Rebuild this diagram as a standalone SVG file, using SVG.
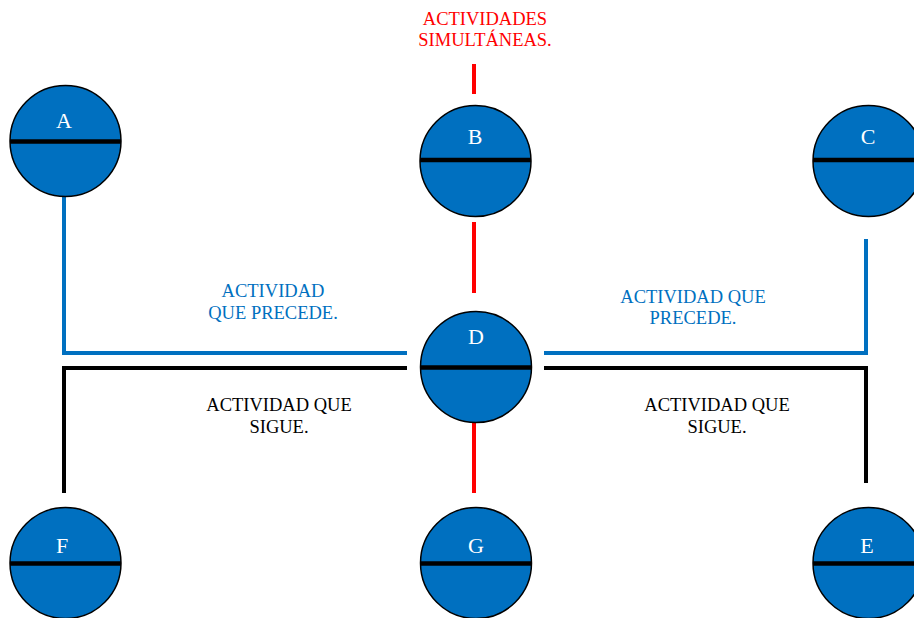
<svg xmlns="http://www.w3.org/2000/svg" width="914" height="618" viewBox="0 0 914 618">
  <style>
    .node circle { fill: #0070C0; stroke: #000; stroke-width: 1.5; }
    .node line { stroke: #000; stroke-width: 4.5; }
    .node text { fill: #fff; font-family: "Liberation Serif", "Times New Roman", serif; font-size: 22px; text-anchor: middle; }
    .lbl { font-family: "Liberation Serif", "Times New Roman", serif; font-size: 18.5px; text-anchor: middle; }
    .blue { fill: #0070C0; }
    .black { fill: #000; }
    .red { fill: #FF0000; }
    #connectors path, #connectors line { fill: none; stroke-width: 4; stroke-linecap: butt; }
    .c-blue { stroke: #0070C0; }
    .c-black { stroke: #000; }
    .c-red { stroke: #FF0000; }
  </style>

  <rect width="914" height="618" fill="#fff"/>

  <!-- connectors -->
  <g id="connectors">
    <line class="c-red" x1="474" y1="64" x2="474" y2="94"/>
    <line class="c-red" x1="474" y1="222" x2="474" y2="293"/>
    <line class="c-red" x1="474" y1="423" x2="474" y2="493"/>
    <path class="c-blue" d="M64 197 V353 H407"/>
    <path class="c-black" d="M407 368 H64 V493"/>
    <path class="c-blue" d="M544 353 H866 V239"/>
    <path class="c-black" d="M544 368 H866 V483"/>
  </g>

  <!-- labels -->
  <g id="labels">
    <text class="lbl red" x="485" y="25">ACTIVIDADES</text>
    <text class="lbl red" x="485" y="46">SIMULTÁNEAS.</text>
    <text class="lbl blue" x="273" y="297">ACTIVIDAD</text>
    <text class="lbl blue" x="273" y="319">QUE PRECEDE.</text>
    <text class="lbl black" x="279" y="411">ACTIVIDAD QUE</text>
    <text class="lbl black" x="279" y="433">SIGUE.</text>
    <text class="lbl blue" x="693" y="303">ACTIVIDAD QUE</text>
    <text class="lbl blue" x="693" y="324">PRECEDE.</text>
    <text class="lbl black" x="717" y="411">ACTIVIDAD QUE</text>
    <text class="lbl black" x="717" y="433">SIGUE.</text>
  </g>

  <!-- nodes -->
  <g id="node-A" class="node">
    <circle cx="65.5" cy="141" r="55.5"/>
    <line x1="10" y1="141.5" x2="121" y2="141.5"/>
    <text x="64" y="128">A</text>
  </g>
  <g id="node-B" class="node">
    <circle cx="475.5" cy="161" r="55.5"/>
    <line x1="420" y1="160" x2="531" y2="160"/>
    <text x="475" y="144">B</text>
  </g>
  <g id="node-C" class="node">
    <circle cx="868.5" cy="161" r="55.5"/>
    <line x1="813" y1="160" x2="924" y2="160"/>
    <text x="868" y="144">C</text>
  </g>
  <g id="node-D" class="node">
    <circle cx="476" cy="367" r="55.5"/>
    <line x1="420.5" y1="367.5" x2="531.5" y2="367.5"/>
    <text x="476" y="344">D</text>
  </g>
  <g id="node-F" class="node">
    <circle cx="65.5" cy="563" r="55.5"/>
    <line x1="10" y1="563.5" x2="121" y2="563.5"/>
    <text x="62" y="553">F</text>
  </g>
  <g id="node-G" class="node">
    <circle cx="476" cy="563" r="55.5"/>
    <line x1="420.5" y1="563.5" x2="531.5" y2="563.5"/>
    <text x="476" y="553">G</text>
  </g>
  <g id="node-E" class="node">
    <circle cx="868.5" cy="563" r="55.5"/>
    <line x1="813" y1="563.5" x2="924" y2="563.5"/>
    <text x="867" y="553">E</text>
  </g>
</svg>
